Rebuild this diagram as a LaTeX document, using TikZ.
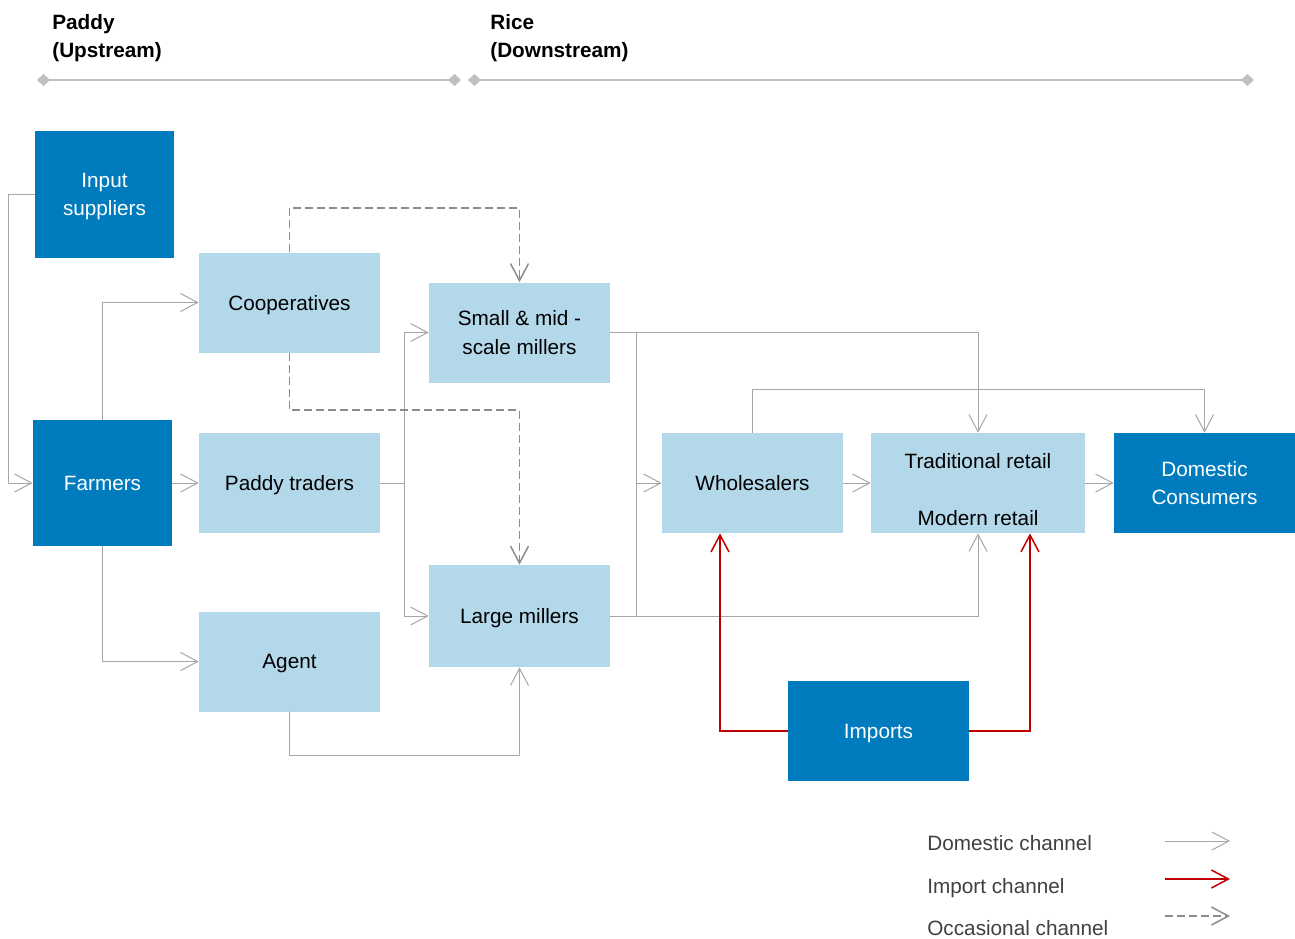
\documentclass[tikz,border=0pt]{standalone}
\usepackage{fontspec}
\setmainfont{Liberation Sans}
\usetikzlibrary{arrows.meta}
\definecolor{darkblue}{HTML}{007BBD}
\definecolor{lightblue}{HTML}{B3D8EA}
\definecolor{linegrey}{HTML}{A6A6A6}
\definecolor{dashgrey}{HTML}{8C8C8C}
\definecolor{importred}{HTML}{C00000}
\definecolor{axisgrey}{HTML}{C0C0C0}
\definecolor{legendgrey}{HTML}{404040}
\begin{document}
\begin{tikzpicture}[x=0.02cm,y=-0.02cm,font=\fontsize{11.8}{16}\selectfont,
  dark/.style={fill=darkblue,text=white,align=center,text depth=-0.04cm,minimum width=3.62cm,minimum height=2cm},
  light/.style={fill=lightblue,align=center,text depth=-0.04cm,minimum width=3.62cm,minimum height=2cm},
  tip/.style={-{Straight Barb[length=0.34cm,width=0.36cm]}},
  dom/.style={draw=linegrey,line width=0.02cm,tip},
  imp/.style={draw=importred,line width=0.03cm,tip},
  occ/.style={draw=dashgrey,line width=0.03cm,dash pattern=on 0.16cm off 0.08cm,tip},
  axis/.style={draw=axisgrey,line width=0.04cm,{Diamond[length=0.26cm,width=0.24cm]}-{Diamond[length=0.26cm,width=0.24cm]}}]
\useasboundingbox (0,0) rectangle (1295,938);
\node[anchor=north west,inner sep=0,align=left,font=\fontsize{11.8}{16}\selectfont\bfseries] (up) at (52,14) {Paddy\\(Upstream)};
\node[anchor=north west,inner sep=0,align=left,font=\fontsize{11.8}{16}\selectfont\bfseries] (down) at (490,14) {Rice\\(Downstream)};
\coordinate (u1) at (37,80); \coordinate (u2) at (461,80);
\coordinate (d1) at (468,80); \coordinate (d2) at (1254,80);
\draw[axis] (u1) -- (u2);
\draw[axis] (d1) -- (d2);
\node[dark,minimum width=2.78cm,minimum height=2.54cm] (insup) at (104.5,194.5) {Input\\suppliers};
\node[dark,minimum width=2.78cm,minimum height=2.52cm] (farm) at (102.5,483) {Farmers};
\node[light] (coop) at (289.5,302.5) {Cooperatives};
\node[light] (trad) at (289.5,483) {Paddy traders};
\node[light] (agent) at (289.5,661.5) {Agent};
\node[light] (small) at (519.5,332.5) {Small \& mid -\\scale millers};
\node[light,minimum height=2.04cm] (large) at (519.5,616) {Large millers};
\node[light] (whole) at (752.5,483) {Wholesalers};
\node[light,minimum width=4.28cm] (retail) at (978,483) {\rule{0pt}{0.56cm}Traditional retail\\[0.58cm]Modern retail};
\node[dark] (cons) at (1204.5,483) {Domestic\\Consumers};
\node[dark] (imp) at (878.5,731) {Imports};
\draw[dom] (insup.west) -- ++(-26,0) |- (farm.west);
\draw[dom] (farm.north) |- (coop.west);
\draw[dom] (farm) -- (trad);
\draw[dom] (farm.south) |- (agent.west);
\draw[dom] (trad.east) -- ++(24,0) coordinate (tj) |- (small.west);
\draw[dom] (tj) |- (large.west);
\draw[occ] (coop.north) -- ++(0,-44) -| (small.north);
\draw[occ] (coop.south) -- ++(0,57) -| (large.north);
\draw[dom] (agent.south) -- ++(0,44) -| (large.south);
\coordinate (mj) at (636,483);
\draw[dom] (small.east) -| (mj) -- (whole.west);
\draw[dom,-] (large.east) -| (mj);
\draw[dom] (small.east) -| (retail.north);
\draw[dom] (large.east) -| (retail.south);
\draw[dom] (whole.north) -- ++(0,-43) -| (cons.north);
\draw[dom] (whole) -- (retail);
\draw[dom] (retail) -- (cons);
\draw[imp] (imp.west) -| ([xshift=-0.65cm]whole.south);
\draw[imp] (imp.east) -| ([xshift=1.04cm]retail.south);
\node[anchor=west,inner sep=0,text=legendgrey] (ldom) at (927,843) {Domestic channel};
\node[anchor=west,inner sep=0,text=legendgrey] (limp) at (927,888) {Import channel};
\node[anchor=west,inner sep=0,text=legendgrey] (locc) at (927,928) {Occasional channel};
\coordinate (l1a) at (1165,841); \coordinate (l1b) at (1230,841);
\coordinate (l2a) at (1165,879); \coordinate (l2b) at (1230,879);
\coordinate (l3a) at (1165,916); \coordinate (l3b) at (1230,916);
\draw[dom] (l1a) -- (l1b);
\draw[imp] (l2a) -- (l2b);
\draw[occ] (l3a) -- (l3b);
\end{tikzpicture}
\end{document}
